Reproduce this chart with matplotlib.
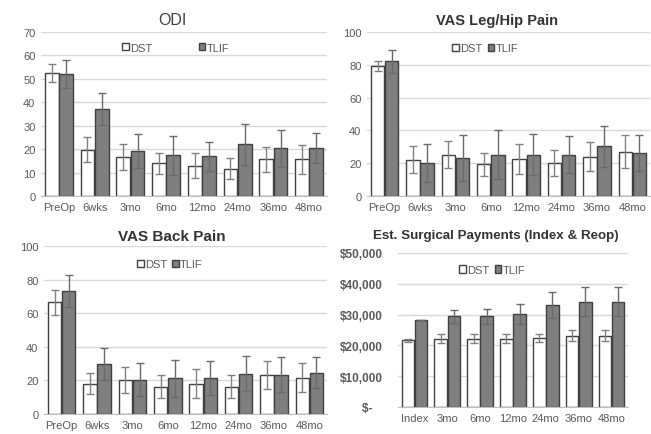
import matplotlib
matplotlib.use("Agg")
import matplotlib.pyplot as plt
import numpy as np
from matplotlib.patches import Patch

plt.rcParams['font.family'] = ['Liberation Sans', 'DejaVu Sans']

months8 = ["PreOp", "6wks", "3mo", "6mo", "12mo", "24mo", "36mo", "48mo"]
months7 = ["Index", "3mo", "6mo", "12mo", "24mo", "36mo", "48mo"]

odi_dst = [52.6, 19.7, 16.7, 13.9, 13.0, 11.7, 15.6, 15.6]
odi_dst_err = [3.8, 5.3, 5.4, 4.5, 5.3, 4.6, 5.4, 6.0]
odi_tlif = [52.1, 37.1, 19.3, 17.4, 16.9, 22.0, 20.4, 20.6]
odi_tlif_err = [5.8, 7.0, 7.3, 8.3, 6.2, 8.7, 7.9, 6.5]

leg_dst = [79.2, 22.2, 25.3, 19.4, 22.7, 20.0, 23.9, 27.1]
leg_dst_err = [3.2, 8.0, 8.4, 7.1, 9.1, 8.0, 8.8, 10.0]
leg_tlif = [82.2, 20.0, 23.1, 25.3, 25.3, 25.3, 30.4, 26.3]
leg_tlif_err = [7.0, 11.6, 14.0, 15.1, 12.3, 11.4, 12.5, 10.8]

back_dst = [66.6, 18.1, 20.1, 16.3, 18.1, 16.3, 23.3, 21.5]
back_dst_err = [7.4, 6.4, 7.7, 7.0, 8.5, 6.8, 8.5, 8.7]
back_tlif = [73.0, 29.6, 20.5, 21.3, 21.5, 24.1, 23.5, 24.7]
back_tlif_err = [9.5, 9.6, 9.9, 11.1, 10.3, 10.7, 10.7, 9.5]

pay_dst = [21600, 22200, 22200, 22200, 22400, 23200, 23200]
pay_dst_err = [500, 1500, 1500, 1500, 1400, 1900, 1900]
pay_tlif = [28100, 29400, 29400, 30300, 33100, 34200, 34200]
pay_tlif_err = [300, 2200, 2300, 3200, 4100, 4800, 4700]

W, H = 651, 435
fig = plt.figure(figsize=(W / 100, H / 100), dpi=100)
fig.patch.set_facecolor('white')

tick_color = '#595959'
grid_color = '#d9d9d9'
edge = '#404040'
tlif_color = '#7f7f7f'


def px_axes(x0, x1, y_top, y_bot):
    return fig.add_axes([x0 / W, 1 - y_bot / H, (x1 - x0) / W, (y_bot - y_top) / H])


def draw(ax, cats, dst, dste, tlif, tlife, ymax, step, title, tbold, tsize, title_x,
         title_pad, legend_x, legend_y, colspace, fmt=None):
    x = np.arange(len(cats))
    bw = 0.38
    off = 0.2
    ax.bar(x - off, dst, bw, color='white', edgecolor=edge, linewidth=1.0, zorder=2)
    ax.bar(x + off, tlif, bw, color=tlif_color, edgecolor=edge, linewidth=1.0, zorder=2)
    ax.errorbar(x - off, dst, yerr=dste, fmt='none', ecolor='#808080',
                elinewidth=1.0, capsize=3, capthick=1.0, zorder=3)
    ax.errorbar(x + off, tlif, yerr=tlife, fmt='none', ecolor='#6a6a6a',
                elinewidth=1.0, capsize=3, capthick=1.0, zorder=3)
    ax.set_xlim(-0.5, len(cats) - 0.5)
    ax.set_ylim(0, ymax)
    ticks = np.arange(0, ymax + 1, step)
    ax.set_yticks(ticks)
    ax.set_xticks(x)
    ax.set_xticklabels(cats)
    ax.tick_params(axis='both', length=0, labelsize=8, colors=tick_color, pad=4)
    if fmt is not None:
        ax.set_yticklabels([fmt(t) for t in ticks], fontweight='bold',
                           fontsize=8.5, color='#5a5a5a')
        ax.tick_params(axis='y', pad=11)
    ax.yaxis.grid(True, color=grid_color, linewidth=1.0, zorder=0)
    ax.set_axisbelow(True)
    for s in ['top', 'right', 'left']:
        ax.spines[s].set_visible(False)
    ax.spines['bottom'].set_color('#bfbfbf')
    ax.set_title(title, fontsize=tsize, fontweight='bold' if tbold else 'normal',
                 color='#333333' if tbold else '#404040', pad=title_pad, x=title_x)
    handles = [Patch(facecolor='white', edgecolor=edge, label='DST'),
               Patch(facecolor=tlif_color, edgecolor=edge, label='TLIF')]
    leg = ax.legend(handles=handles, loc='center', bbox_to_anchor=(legend_x, legend_y),
                    ncol=2, frameon=False, fontsize=8, handlelength=0.6,
                    handleheight=0.6, handletextpad=0.1, columnspacing=colspace)
    for t in leg.get_texts():
        t.set_color(tick_color)


ax1 = px_axes(41, 327, 33, 197)
draw(ax1, months8, odi_dst, odi_dst_err, odi_tlif, odi_tlif_err, 70, 10,
     'ODI', False, 11.5, 0.46, 6, 0.47, 0.905, 4.2)

ax2 = px_axes(367, 650, 33, 197)
draw(ax2, months8, leg_dst, leg_dst_err, leg_tlif, leg_tlif_err, 100, 20,
     'VAS Leg/Hip Pain', True, 10.5, 0.46, 6, 0.417, 0.9, 0.5)

ax3 = px_axes(44, 327, 247, 415)
draw(ax3, months8, back_dst, back_dst_err, back_tlif, back_tlif_err, 100, 20,
     'VAS Back Pain', True, 11, 0.45, 4, 0.445, 0.89, 0.5)


def money(v):
    if v == 0:
        return '$-   '
    return '${:,.0f}'.format(v)


ax4 = px_axes(398, 628, 254, 408)
draw(ax4, months7, pay_dst, pay_dst_err, pay_tlif, pay_tlif_err, 50000, 10000,
     'Est. Surgical Payments (Index & Reop)', True, 9.6, 0.426, 11, 0.41, 0.89, 0.5,
     fmt=money)

fig.savefig('out.png', dpi=100, facecolor='white')
